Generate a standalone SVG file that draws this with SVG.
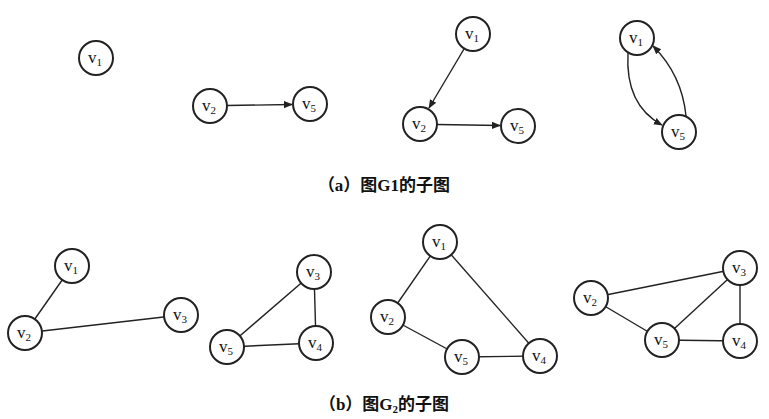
<svg xmlns="http://www.w3.org/2000/svg" width="769" height="419" viewBox="0 0 769 419">
<style>
.n circle{fill:#fff;stroke:#222;stroke-width:2}
.n text{font-family:"Liberation Serif",serif;font-size:17px;fill:#111;text-anchor:middle}
.n tspan{font-size:11px}
.e{stroke:#222;stroke-width:1.4;fill:none}
.cap{font-family:"Liberation Serif","Noto Sans CJK SC",serif;font-size:17px;font-weight:bold;fill:#111;text-anchor:middle}
</style>
<defs><marker id="a" viewBox="0 0 10 10" refX="9" refY="5" markerWidth="9" markerHeight="9" orient="auto" markerUnits="userSpaceOnUse"><path d="M0,1 L10,5 L0,9 z" fill="#222"/></marker></defs>
<rect width="769" height="419" fill="#fff"/>
<g id="edges">
<line class="e" x1="227" y1="105.5" x2="292" y2="104.5" marker-end="url(#a)"/>
<line class="e" x1="464" y1="49" x2="429" y2="108" marker-end="url(#a)"/>
<line class="e" x1="437" y1="124.5" x2="500" y2="125.5" marker-end="url(#a)"/>
<path class="e" d="M628,53 Q625,105 662,125" marker-end="url(#a)"/>
<path class="e" d="M686,116 Q682,75 653,46" marker-end="url(#a)"/>
<line class="e" x1="72" y1="266" x2="25" y2="333"/>
<line class="e" x1="25" y1="333" x2="181" y2="315"/>
<line class="e" x1="314" y1="272" x2="316" y2="343"/>
<line class="e" x1="314" y1="272" x2="227" y2="347"/>
<line class="e" x1="227" y1="347" x2="316" y2="343"/>
<line class="e" x1="440" y1="242" x2="388" y2="317"/>
<line class="e" x1="440" y1="242" x2="540" y2="356"/>
<line class="e" x1="388" y1="317" x2="462" y2="357"/>
<line class="e" x1="462" y1="357" x2="540" y2="356"/>
<line class="e" x1="591" y1="298" x2="740" y2="268"/>
<line class="e" x1="591" y1="298" x2="662" y2="340"/>
<line class="e" x1="662" y1="340" x2="740" y2="268"/>
<line class="e" x1="662" y1="340" x2="740" y2="341"/>
<line class="e" x1="740" y1="268" x2="740" y2="341"/>
</g>
<g id="a1" class="n"><circle cx="96" cy="58" r="17"/><text x="95" y="63">v<tspan dy="3">1</tspan></text></g>
<g id="b2" class="n"><circle cx="210" cy="106" r="17"/><text x="209" y="111">v<tspan dy="3">2</tspan></text></g>
<g id="b5" class="n"><circle cx="310" cy="104" r="17"/><text x="309" y="109">v<tspan dy="3">5</tspan></text></g>
<g id="c1" class="n"><circle cx="473" cy="34" r="17"/><text x="472" y="39">v<tspan dy="3">1</tspan></text></g>
<g id="c2" class="n"><circle cx="420" cy="124" r="17"/><text x="419" y="129">v<tspan dy="3">2</tspan></text></g>
<g id="c5" class="n"><circle cx="518" cy="126" r="17"/><text x="517" y="131">v<tspan dy="3">5</tspan></text></g>
<g id="d1" class="n"><circle cx="637" cy="38" r="17"/><text x="636" y="43">v<tspan dy="3">1</tspan></text></g>
<g id="d5" class="n"><circle cx="679" cy="132" r="17"/><text x="678" y="137">v<tspan dy="3">5</tspan></text></g>
<text class="cap" x="384" y="191">（a）图G1的子图</text>
<g id="e1" class="n"><circle cx="72" cy="266" r="17"/><text x="71" y="271">v<tspan dy="3">1</tspan></text></g>
<g id="e2" class="n"><circle cx="25" cy="333" r="17"/><text x="24" y="338">v<tspan dy="3">2</tspan></text></g>
<g id="e3" class="n"><circle cx="181" cy="315" r="17"/><text x="180" y="320">v<tspan dy="3">3</tspan></text></g>
<g id="f3" class="n"><circle cx="314" cy="272" r="17"/><text x="313" y="277">v<tspan dy="3">3</tspan></text></g>
<g id="f5" class="n"><circle cx="227" cy="347" r="17"/><text x="226" y="352">v<tspan dy="3">5</tspan></text></g>
<g id="f4" class="n"><circle cx="316" cy="343" r="17"/><text x="315" y="348">v<tspan dy="3">4</tspan></text></g>
<g id="g1" class="n"><circle cx="440" cy="242" r="17"/><text x="439" y="247">v<tspan dy="3">1</tspan></text></g>
<g id="g2" class="n"><circle cx="388" cy="317" r="17"/><text x="387" y="322">v<tspan dy="3">2</tspan></text></g>
<g id="g5" class="n"><circle cx="462" cy="357" r="17"/><text x="461" y="362">v<tspan dy="3">5</tspan></text></g>
<g id="g4" class="n"><circle cx="540" cy="356" r="17"/><text x="539" y="361">v<tspan dy="3">4</tspan></text></g>
<g id="h2" class="n"><circle cx="591" cy="298" r="17"/><text x="590" y="303">v<tspan dy="3">2</tspan></text></g>
<g id="h3" class="n"><circle cx="740" cy="268" r="17"/><text x="739" y="273">v<tspan dy="3">3</tspan></text></g>
<g id="h5" class="n"><circle cx="662" cy="340" r="17"/><text x="661" y="345">v<tspan dy="3">5</tspan></text></g>
<g id="h4" class="n"><circle cx="740" cy="341" r="17"/><text x="739" y="346">v<tspan dy="3">4</tspan></text></g>
<text class="cap" x="384" y="410">（b）图G<tspan font-size="11" dy="3">2</tspan><tspan dy="-3">的子图</tspan></text>
</svg>
